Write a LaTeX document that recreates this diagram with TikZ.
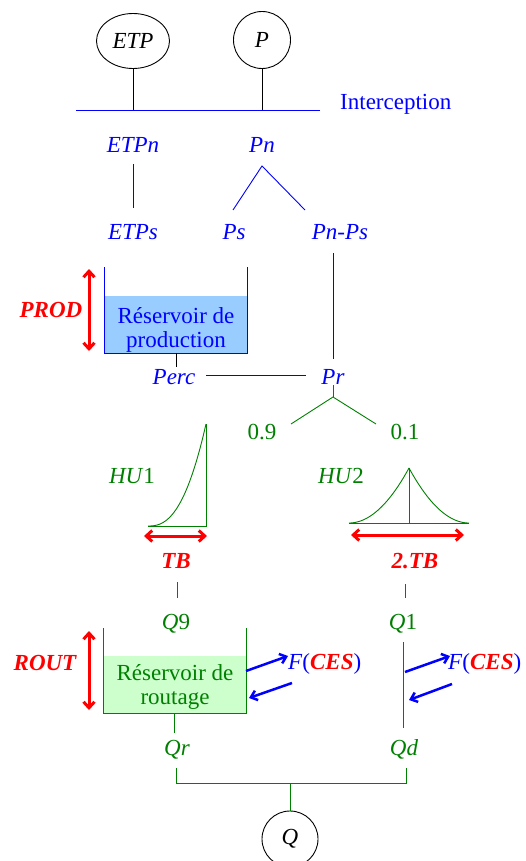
\documentclass[tikz,border=0pt]{standalone}
\usepackage{fontspec}
\setmainfont{Liberation Serif}
\usetikzlibrary{arrows.meta,shapes.geometric}
\definecolor{cgreen}{RGB}{0,128,0}
\definecolor{fillblue}{RGB}{153,204,255}
\definecolor{fillgreen}{RGB}{204,255,204}
\begin{document}
\begin{tikzpicture}[x=1pt,y=-1pt,
  font=\fontsize{23}{26}\selectfont,
  lbl/.style={anchor=base, inner sep=0pt},
  ln/.style={line width=0.9pt},
  redarrow/.style={red, line width=3pt, {Straight Barb[length=6pt,width=11pt]}-{Straight Barb[length=6pt,width=11pt]}},
  bluearrow/.style={blue, line width=2.5pt, -{Straight Barb[length=6pt,width=10pt]}},
  bi/.style={font=\fontsize{23}{26}\selectfont\bfseries\itshape}]
\useasboundingbox (0,0) rectangle (525,861);

% top inputs
\node[draw, ln, ellipse, minimum width=73pt, minimum height=55pt, inner sep=0pt] (etp) at (133,41) {\textit{ETP}};
\node[draw, ln, circle, minimum size=57pt, inner sep=0pt] (p) at (262,40) {\textit{P}};
\coordinate (intL) at (76,110);
\coordinate (intR) at (320,110);
\draw[ln] (etp.south) -- (etp.south |- intL);
\draw[ln] (p.south) -- (p.south |- intL);
\draw[ln, blue] (intL) -- (intR);
\node[lbl, anchor=base west, blue] (interc) at (340,110) {Interception};

% net quantities
\node[lbl, blue] (etpn) at (133,153) {\textit{ETPn}};
\node[lbl, blue] (pn) at (262,153) {\textit{Pn}};
\node[lbl, blue] (etps) at (133,239) {\textit{ETPs}};
\node[lbl, blue] (ps) at (234,239) {\textit{Ps}};
\node[lbl, blue] (pnps) at (340,239) {\textit{Pn-Ps}};
\draw[ln, blue] (etpn |- 0,164) -- (etps |- 0,208);
\coordinate (pnA) at (262,166);
\coordinate (psE) at (233,210);
\coordinate (pnpsE) at (305,210);
\draw[ln, blue] (psE) -- (pnA) -- (pnpsE);

% production reservoir
\fill[fillblue] (104,296) rectangle (247,353);
\draw[ln, blue] (104,267) -- (104,353) -- (247,353) -- (247,267);
\node[lbl, blue] (res1a) at (176,323) {Réservoir de};
\node[lbl, blue] (res1b) at (176,347) {production};
\draw[redarrow] (89,269) -- (89,351);
\node[lbl, red, bi] (prod) at (51,317) {PROD};

\node[lbl, blue] (perc) at (174,384) {\textit{Perc}};
\node[lbl, blue] (pr) at (333,384) {\textit{Pr}};
\draw[ln] (176,353) -- (176,367);
\draw[ln, blue] (pr |- 0,253) -- (pr |- 0,359);
\draw[ln, blue] (206,375) -- (306,375);

% split
\coordinate (spl) at (333,397);
\draw[ln, cgreen] (pr |- 0,385) -- (spl);
\draw[ln, cgreen] (291,424) -- (spl) -- (376,424);
\node[lbl, cgreen] (n09) at (262,439) {0.9};
\node[lbl, cgreen] (n01) at (405,439) {0.1};

% unit hydrographs
\node[lbl, cgreen] (hu1) at (132,483) {\textit{HU}1};
\node[lbl, cgreen] (hu2) at (341,483) {\textit{HU}2};
\draw[ln, cgreen] plot[domain=0:1, samples=40] ({148+58*\x},{526-102*\x*\x*sqrt(\x)});
\draw[ln, cgreen] (148,526) -- (206,526) -- (206,424);
\draw[ln, cgreen] (349,523) -- (469,523);
\draw[ln, cgreen] (409,468) -- (409,523);
\draw[ln, cgreen] plot[domain=0:1, samples=40] ({349+60*\x},{523-55*\x*\x});
\draw[ln, cgreen] plot[domain=0:1, samples=40] ({469-60*\x},{523-55*\x*\x});

\draw[redarrow] (144,536) -- (207,536);
\draw[redarrow] (351,535) -- (464,535);
\node[lbl, red, bi] (tb) at (176,568) {TB};
\node[lbl, red, bi] (tb2) at (415,568) {2.TB};
\draw[ln, cgreen] (177,582) -- (177,598);
\draw[ln, cgreen] (405,584) -- (405,598);

% routing
\node[lbl, cgreen] (q9) at (176,629) {\textit{Q}9};
\node[lbl, cgreen] (q1) at (403,629) {\textit{Q}1};
\fill[fillgreen] (103,656) rectangle (246,713);
\draw[ln, cgreen] (103,628) -- (103,713) -- (246,713) -- (246,628);
\node[lbl, cgreen] (res2a) at (175,680) {Réservoir de};
\node[lbl, cgreen] (res2b) at (175,704) {routage};
\draw[redarrow] (89,631) -- (89,710);
\node[lbl, red, bi] (rout) at (45,670) {ROUT};

\node[lbl, anchor=base west, blue] (fces1) at (288,669) {\textit{F}(\textcolor{red}{\bfseries\itshape CES})};
\node[lbl, anchor=base west, blue] (fces2) at (448,669) {\textit{F}(\textcolor{red}{\bfseries\itshape CES})};
\draw[bluearrow] (246,671) -- (288,656);
\draw[bluearrow] (292,683) -- (249,698);
\draw[bluearrow] (405,672) -- (450,656);
\draw[bluearrow] (452,684) -- (409,700);
\draw[ln, cgreen] (403,642) -- (403,728);
\draw[ln, cgreen] (174,713) -- (174,733);

\node[lbl, cgreen] (qr) at (177,755) {\textit{Qr}};
\node[lbl, cgreen] (qd) at (404,755) {\textit{Qd}};
\node[draw, ln, circle, minimum size=56pt, inner sep=0pt] (q) at (290,839) {\textit{Q}};
\coordinate (jn) at (290,783);
\draw[ln, cgreen] (176,768) -- (176,783) -- (406,783) -- (406,768);
\draw[ln, cgreen] (jn) -- (q.north);
\end{tikzpicture}
\end{document}
